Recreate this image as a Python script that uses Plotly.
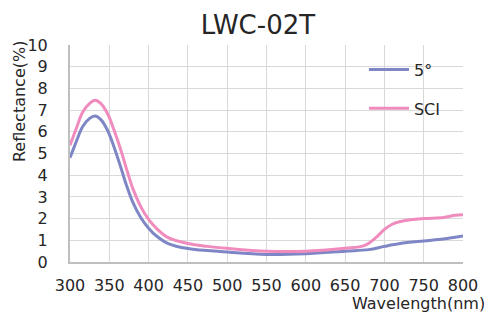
import plotly.graph_objects as go

wl_5 = [300, 308, 316, 325, 332, 339, 348, 356, 365, 372, 380, 390, 400, 410, 425, 450, 500, 550, 600, 650, 680, 700, 720, 750, 775, 800]
r_5 = [4.8, 5.55, 6.23, 6.62, 6.73, 6.57, 6.05, 5.3, 4.32, 3.52, 2.75, 2.05, 1.56, 1.2, 0.85, 0.62, 0.46, 0.35, 0.38, 0.5, 0.57, 0.72, 0.85, 0.97, 1.06, 1.2]

wl_sci = [300, 308, 316, 325, 332, 339, 348, 356, 365, 372, 380, 390, 400, 410, 425, 450, 475, 500, 550, 600, 650, 675, 690, 700, 710, 725, 750, 775, 790, 800]
r_sci = [5.38, 6.15, 6.9, 7.31, 7.45, 7.31, 6.82, 6.08, 5.12, 4.28, 3.38, 2.55, 1.96, 1.55, 1.12, 0.85, 0.72, 0.63, 0.5, 0.5, 0.63, 0.77, 1.15, 1.5, 1.74, 1.9, 2.0, 2.05, 2.15, 2.18]

x_ticks = [300, 350, 400, 450, 500, 550, 600, 650, 700, 750, 800]
y_ticks = list(range(0, 11))

FONT = "DejaVu Sans"
TXT = "#262626"

fig = go.Figure()
fig.add_trace(go.Scatter(x=wl_5, y=r_5, name="5°", mode="lines", legendgroup="a",
                         line=dict(color="#7f86c6", width=3, shape="spline", smoothing=1)))
fig.add_trace(go.Scatter(x=wl_sci, y=r_sci, name="SCI", mode="lines", legendgroup="b",
                         line=dict(color="#f08bbd", width=3, shape="spline", smoothing=1)))

fig.update_layout(
    width=484, height=313,
    margin=dict(l=70, r=21, t=45, b=51, autoexpand=False),
    paper_bgcolor="white", plot_bgcolor="white",
    font=dict(family=FONT, size=16, color=TXT),
    title=dict(text="LWC-02T", x=0.533, xanchor="center", y=0.92, yanchor="middle",
               font=dict(family=FONT, size=26, color=TXT)),
    legend=dict(x=0.748, y=0.965, xanchor="left", yanchor="top", bgcolor="rgba(0,0,0,0)",
                font=dict(family=FONT, size=16, color=TXT), tracegroupgap=15,
                itemwidth=40),
    showlegend=True,
)
fig.update_xaxes(range=[300, 800], tickvals=x_ticks, ticktext=[str(v) for v in x_ticks],
                 showgrid=True, gridcolor="#d9d9d9", gridwidth=1, automargin=False,
                 showline=True, linecolor="#bfbfbf", linewidth=2, mirror=False,
                 ticks="", ticklabelstandoff=8, zeroline=False,
                 tickfont=dict(family=FONT, size=16, color=TXT))
fig.update_yaxes(range=[0, 10], tickvals=y_ticks, automargin=False,
                 showgrid=True, gridcolor="#d9d9d9", gridwidth=1,
                 showline=True, linecolor="#bfbfbf", linewidth=2, mirror=False,
                 ticks="", ticklabelstandoff=17, zeroline=False,
                 tickfont=dict(family=FONT, size=16, color=TXT))

fig.add_annotation(text="Reflectance(%)", xref="paper", yref="paper", x=-0.127, y=0.742,
                   xanchor="center", yanchor="middle", textangle=-90, showarrow=False,
                   font=dict(family=FONT, size=16, color=TXT))
fig.add_annotation(text="Wavelength(nm)", xref="paper", yref="paper", x=(350 - 70) / 393, y=-(303 - 262) / 217,
                   xanchor="left", yanchor="middle", showarrow=False,
                   font=dict(family=FONT, size=16, color=TXT))

fig.write_html("out.html", config={"displayModeBar": False},
               post_script="document.body.style.margin='0';")
